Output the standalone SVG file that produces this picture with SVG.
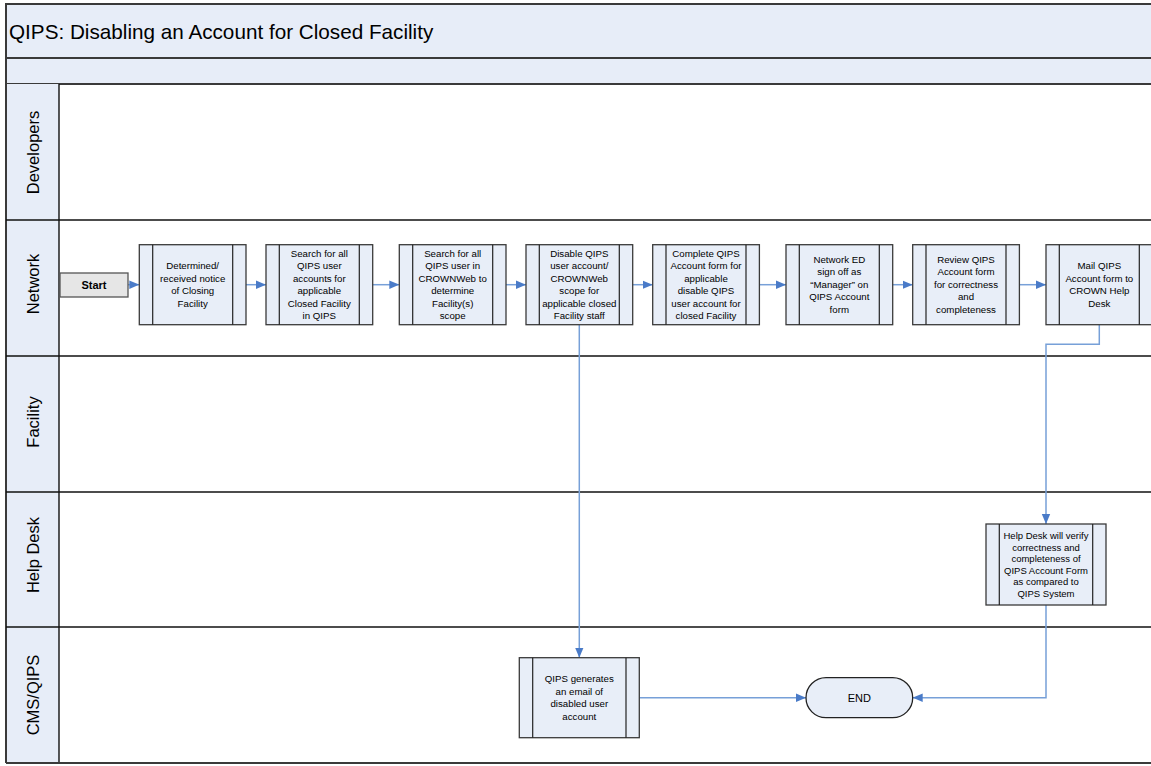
<svg xmlns="http://www.w3.org/2000/svg" width="1151" height="766" viewBox="0 0 1151 766">
<defs>
<style>
text{font-family:"Liberation Sans",Arial,sans-serif;fill:#000}
.band{fill:#e7edf8;stroke:#3a3a3a;stroke-width:2}
.lanehead{fill:#e7edf8}
.div{stroke:#111;stroke-width:1.4;fill:none}
.proc{fill:#e8eef8;stroke:#3a3a3a;stroke-width:1.3}
.inner{stroke:#222;stroke-width:1.2}
.t{font-size:9.7px;text-anchor:middle}
.th{font-size:9.5px;text-anchor:middle}
.lane{font-size:16.5px;text-anchor:middle}
.conn{fill:none;stroke:#77a0d8;stroke-width:1.5}
</style>
<marker id="arr" markerUnits="userSpaceOnUse" markerWidth="10" markerHeight="10" viewBox="0 0 10 10" refX="10" refY="5" orient="auto">
<path d="M0,0.8 L10,5 L0,9.2 Z" fill="#4a7bc8"/>
</marker>
</defs>
<rect width="1151" height="766" fill="#fff"/>
<g id="frame">
<rect class="band" x="6" y="4" width="1160" height="54"/>
<rect class="band" x="6" y="58" width="1160" height="26"/>
<text x="9" y="38.5" font-size="20.7px">QIPS: Disabling an Account for Closed Facility</text>
<rect class="lanehead" x="6" y="84" width="53" height="679"/>
<line class="div" x1="6" y1="84" x2="6" y2="763" style="stroke:#3a3a3a;stroke-width:2"/>
<line class="div" x1="59" y1="84" x2="59" y2="763"/>
<line class="div" x1="6" y1="220" x2="1160" y2="220"/>
<line class="div" x1="6" y1="356" x2="1160" y2="356"/>
<line class="div" x1="6" y1="492" x2="1160" y2="492"/>
<line class="div" x1="6" y1="627" x2="1160" y2="627"/>
<line class="div" x1="6" y1="763" x2="1160" y2="763" style="stroke:#3a3a3a;stroke-width:2"/>
</g>
<g id="lane-developers"><text class="lane" transform="translate(33,152.5) rotate(-90)" x="0" y="5.8">Developers</text></g>
<g id="lane-network"><text class="lane" transform="translate(33,284) rotate(-90)" x="0" y="5.8">Network</text></g>
<g id="lane-facility"><text class="lane" transform="translate(33,422) rotate(-90)" x="0" y="5.8">Facility</text></g>
<g id="lane-helpdesk"><text class="lane" transform="translate(33,555) rotate(-90)" x="0" y="5.8">Help Desk</text></g>
<g id="lane-cms"><text class="lane" transform="translate(33,695) rotate(-90)" x="0" y="5.8">CMS/QIPS</text></g>

<g id="connectors">
<line class="conn" x1="128" y1="284.7" x2="139.3" y2="284.7" marker-end="url(#arr)"/>
<line class="conn" x1="246" y1="284.7" x2="266" y2="284.7" marker-end="url(#arr)"/>
<line class="conn" x1="372.7" y1="284.7" x2="399.3" y2="284.7" marker-end="url(#arr)"/>
<line class="conn" x1="506" y1="284.7" x2="526" y2="284.7" marker-end="url(#arr)"/>
<line class="conn" x1="632.7" y1="284.7" x2="652.7" y2="284.7" marker-end="url(#arr)"/>
<line class="conn" x1="759.3" y1="284.7" x2="786" y2="284.7" marker-end="url(#arr)"/>
<line class="conn" x1="892.7" y1="284.7" x2="912.7" y2="284.7" marker-end="url(#arr)"/>
<line class="conn" x1="1019.3" y1="284.7" x2="1046" y2="284.7" marker-end="url(#arr)"/>
<line class="conn" x1="579.3" y1="324.7" x2="579.3" y2="657.7" marker-end="url(#arr)"/>
<polyline class="conn" points="1099.3,324.7 1099.3,344.3 1046,344.3 1046,524" marker-end="url(#arr)"/>
<polyline class="conn" points="1046,605 1046,697.7 912.7,697.7" marker-end="url(#arr)"/>
<line class="conn" x1="639.3" y1="697.7" x2="806" y2="697.7" marker-end="url(#arr)"/>
</g>

<g id="start">
<rect x="60" y="273" width="68" height="24" fill="#e6e6e6" stroke="#555" stroke-width="1.3"/>
<text x="94" y="288.8" font-size="11px" font-weight="bold" text-anchor="middle">Start</text>
</g>

<g id="p1">
<rect class="proc" x="139.3" y="244.7" width="106.7" height="80"/>
<line class="inner" x1="152.7" y1="244.7" x2="152.7" y2="324.7"/><line class="inner" x1="232.7" y1="244.7" x2="232.7" y2="324.7"/>
<text class="t" x="192.7" y="269.4">Determined/</text><text class="t" x="192.7" y="281.9">received notice</text><text class="t" x="192.7" y="294.4">of Closing</text><text class="t" x="192.7" y="306.9">Facility</text>
</g>
<g id="p2">
<rect class="proc" x="266" y="244.7" width="106.7" height="80"/>
<line class="inner" x1="279.3" y1="244.7" x2="279.3" y2="324.7"/><line class="inner" x1="359.3" y1="244.7" x2="359.3" y2="324.7"/>
<text class="t" x="319.3" y="256.9">Search for all</text><text class="t" x="319.3" y="269.4">QIPS user</text><text class="t" x="319.3" y="281.9">accounts for</text><text class="t" x="319.3" y="294.4">applicable</text><text class="t" x="319.3" y="306.9">Closed Facility</text><text class="t" x="319.3" y="319.4">in QIPS</text>
</g>
<g id="p3">
<rect class="proc" x="399.3" y="244.7" width="106.7" height="80"/>
<line class="inner" x1="412.7" y1="244.7" x2="412.7" y2="324.7"/><line class="inner" x1="492.7" y1="244.7" x2="492.7" y2="324.7"/>
<text class="t" x="452.7" y="256.9">Search for all</text><text class="t" x="452.7" y="269.4">QIPS user in</text><text class="t" x="452.7" y="281.9">CROWNWeb to</text><text class="t" x="452.7" y="294.4">determine</text><text class="t" x="452.7" y="306.9">Facility(s)</text><text class="t" x="452.7" y="319.4">scope</text>
</g>
<g id="p4">
<rect class="proc" x="526" y="244.7" width="106.7" height="80"/>
<line class="inner" x1="539.3" y1="244.7" x2="539.3" y2="324.7"/><line class="inner" x1="619.3" y1="244.7" x2="619.3" y2="324.7"/>
<text class="t" x="579.3" y="256.9">Disable QIPS</text><text class="t" x="579.3" y="269.4">user account/</text><text class="t" x="579.3" y="281.9">CROWNWeb</text><text class="t" x="579.3" y="294.4">scope for</text><text class="t" x="579.3" y="306.9">applicable closed</text><text class="t" x="579.3" y="319.4">Facility staff</text>
</g>
<g id="p5">
<rect class="proc" x="652.7" y="244.7" width="106.7" height="80"/>
<line class="inner" x1="666" y1="244.7" x2="666" y2="324.7"/><line class="inner" x1="746" y1="244.7" x2="746" y2="324.7"/>
<text class="t" x="706" y="256.9">Complete QIPS</text><text class="t" x="706" y="269.4">Account form for</text><text class="t" x="706" y="281.9">applicable</text><text class="t" x="706" y="294.4">disable QIPS</text><text class="t" x="706" y="306.9">user account for</text><text class="t" x="706" y="319.4">closed Facility</text>
</g>
<g id="p6">
<rect class="proc" x="786" y="244.7" width="106.7" height="80"/>
<line class="inner" x1="799.3" y1="244.7" x2="799.3" y2="324.7"/><line class="inner" x1="879.3" y1="244.7" x2="879.3" y2="324.7"/>
<text class="t" x="839.3" y="262.7">Network ED</text><text class="t" x="839.3" y="275.2">sign off as</text><text class="t" x="839.3" y="287.7">“Manager” on</text><text class="t" x="839.3" y="300.2">QIPS Account</text><text class="t" x="839.3" y="312.7">form</text>
</g>
<g id="p7">
<rect class="proc" x="912.7" y="244.7" width="106.7" height="80"/>
<line class="inner" x1="926" y1="244.7" x2="926" y2="324.7"/><line class="inner" x1="1006" y1="244.7" x2="1006" y2="324.7"/>
<text class="t" x="966" y="262.7">Review QIPS</text><text class="t" x="966" y="275.2">Account form</text><text class="t" x="966" y="287.7">for correctness</text><text class="t" x="966" y="300.2">and</text><text class="t" x="966" y="312.7">completeness</text>
</g>
<g id="p8">
<rect class="proc" x="1046" y="244.7" width="106.7" height="80"/>
<line class="inner" x1="1059.3" y1="244.7" x2="1059.3" y2="324.7"/><line class="inner" x1="1139.3" y1="244.7" x2="1139.3" y2="324.7"/>
<text class="t" x="1099.3" y="269.4">Mail QIPS</text><text class="t" x="1099.3" y="281.9">Account form to</text><text class="t" x="1099.3" y="294.4">CROWN Help</text><text class="t" x="1099.3" y="306.9">Desk</text>
</g>
<g id="helpdesk-verify">
<rect class="proc" x="986" y="524" width="120" height="81"/>
<line class="inner" x1="999.3" y1="524" x2="999.3" y2="605"/><line class="inner" x1="1092.7" y1="524" x2="1092.7" y2="605"/>
<text class="th" x="1046" y="539.1">Help Desk will verify</text><text class="th" x="1046" y="550.6">correctness and</text><text class="th" x="1046" y="562.1">completeness of</text><text class="th" x="1046" y="573.6">QIPS Account Form</text><text class="th" x="1046" y="585.1">as compared to</text><text class="th" x="1046" y="596.6">QIPS System</text>
</g>
<g id="qips-email">
<rect class="proc" x="519.3" y="657.7" width="120" height="80"/>
<line class="inner" x1="532.7" y1="657.7" x2="532.7" y2="737.7"/><line class="inner" x1="626" y1="657.7" x2="626" y2="737.7"/>
<text class="t" x="579.3" y="682.4">QIPS generates</text><text class="t" x="579.3" y="694.9">an email of</text><text class="t" x="579.3" y="707.4">disabled user</text><text class="t" x="579.3" y="719.9">account</text>
</g>
<g id="end">
<rect x="806" y="677.7" width="106.7" height="40" rx="20" ry="20" fill="#e8eef8" stroke="#222" stroke-width="1.3"/>
<text x="859.3" y="701.7" font-size="11px" text-anchor="middle">END</text>
</g>
</svg>
